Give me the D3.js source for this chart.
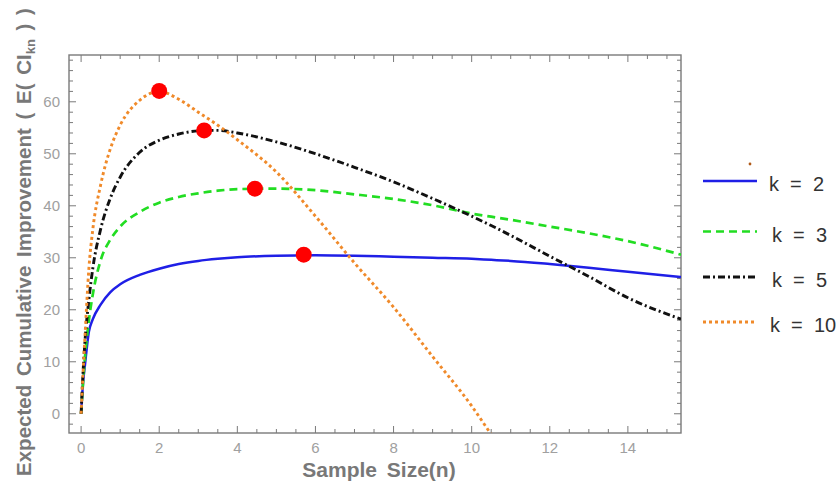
<!DOCTYPE html>
<html>
<head>
<meta charset="utf-8">
<script src="https://cdn.jsdelivr.net/npm/d3@7"></script>
<style>
  html, body { margin: 0; padding: 0; background: #fff; }
  svg { display: block; }
</style>
</head>
<body>
<svg id="chart" width="836" height="486"></svg>
<script>
// ---- data ----
const nValues = [0, 0.05, 0.1, 0.2, 0.3, 0.5, 0.75, 1, 1.5, 2, 2.5, 3, 3.5, 4, 5, 6, 7, 8, 9, 10, 10.5, 11, 12, 13, 14, 15.36];
const k2Values  = [0, 6, 9.5, 15.8, 18.2, 21, 23.4, 24.9, 26.7, 27.9, 28.8, 29.4, 29.8, 30.1, 30.4, 30.5, 30.4, 30.2, 30.0, 29.8, 29.6, 29.4, 28.8, 28.1, 27.3, 26.3];
const k3Values  = [0, 6, 11, 18, 23, 29.5, 33.5, 36, 38.8, 40.6, 41.7, 42.4, 42.9, 43.2, 43.3, 43.0, 42.2, 41.3, 40.1, 38.5, 37.9, 37.3, 36.0, 34.7, 33.2, 30.6];
const k5Values  = [0, 8, 14, 22, 28, 35.5, 41.5, 45.5, 50.3, 52.6, 53.8, 54.4, 54.5, 54.0, 52.3, 50.0, 47.4, 44.6, 41.4, 38.0, 36.2, 34.3, 30.3, 26.4, 22.3, 18.2];
const k10Values = [0, 8, 15, 28, 35.5, 44, 51, 55.5, 60.3, 62, 60.5, 58, 55.5, 52.7, 46.5, 38, 29, 20.5, 11, 1.5, -4, null, null, null, null, null];
const seriesLabels = ["k = 2", "k = 3", "k = 5", "k = 10"];
const peakN      = [5.7, 4.45, 3.15, 2.0];
const peakValues = [30.6, 43.3, 54.5, 62.1];
const xTickLabels = [0, 2, 4, 6, 8, 10, 12, 14];
const yTickLabels = [0, 10, 20, 30, 40, 50, 60];

// ---- styles ----
const colors = ["#1f1fe6", "#22dd22", "#111111", "#f08a2a"];
const dashes = [null, "8,5", "7,3,2,3", "3,3"];
const widths = [2.5, 2.7, 2.9, 2.9];

const svg = d3.select("#chart");
const pLeft = 69, pRight = 681, pTop = 55, pBottom = 433;
const x = d3.scaleLinear().domain([-0.31, 15.36]).range([pLeft, pRight]);
const y = d3.scaleLinear().domain([-3.7, 69]).range([pBottom, pTop]);

svg.append("defs").append("clipPath").attr("id", "clip")
  .append("rect").attr("x", pLeft).attr("y", pTop).attr("width", pRight - pLeft).attr("height", pBottom - pTop);

const frameColor = "#7a7a7a";
const tickColor = "#a0a0a0";

// ticks (inward on all four sides)
const xMinor = d3.range(0, 15.36, 0.5);
const yMinor = d3.range(-2, 69, 2);
const axisG = svg.append("g");
xMinor.forEach(v => {
  const major = Math.abs(v % 2) < 1e-9;
  const len = major ? 7 : 4;
  axisG.append("line").attr("x1", x(v)).attr("x2", x(v)).attr("y1", pBottom).attr("y2", pBottom - len)
    .attr("stroke", frameColor).attr("stroke-width", 1);
  axisG.append("line").attr("x1", x(v)).attr("x2", x(v)).attr("y1", pTop).attr("y2", pTop + len)
    .attr("stroke", frameColor).attr("stroke-width", 1);
});
yMinor.forEach(v => {
  const major = Math.abs(v % 10) < 1e-9;
  const len = major ? 7 : 4;
  axisG.append("line").attr("y1", y(v)).attr("y2", y(v)).attr("x1", pLeft).attr("x2", pLeft + len)
    .attr("stroke", frameColor).attr("stroke-width", 1);
  axisG.append("line").attr("y1", y(v)).attr("y2", y(v)).attr("x1", pRight).attr("x2", pRight - len)
    .attr("stroke", frameColor).attr("stroke-width", 1);
});

// tick labels
svg.append("g").selectAll("text").data(xTickLabels).join("text")
  .attr("x", d => x(d)).attr("y", pBottom + 20)
  .attr("text-anchor", "middle")
  .attr("font-family", "Liberation Sans, Arial, sans-serif").attr("font-size", 15)
  .attr("fill", tickColor).text(d => d);
svg.append("g").selectAll("text").data(yTickLabels).join("text")
  .attr("x", pLeft - 9).attr("y", d => y(d) + 5)
  .attr("text-anchor", "end")
  .attr("font-family", "Liberation Sans, Arial, sans-serif").attr("font-size", 15)
  .attr("fill", tickColor).text(d => d);

// frame
svg.append("rect").attr("x", pLeft).attr("y", pTop).attr("width", pRight - pLeft).attr("height", pBottom - pTop)
  .attr("fill", "none").attr("stroke", frameColor).attr("stroke-width", 1.4);

// lines
const allSeries = [k2Values, k3Values, k5Values, k10Values];
const line = d3.line()
  .defined(d => d[1] !== null)
  .x(d => x(d[0])).y(d => y(d[1]))
  .curve(d3.curveMonotoneX);
const linesG = svg.append("g").attr("clip-path", "url(#clip)");
allSeries.forEach((vals, i) => {
  const pts = nValues.map((n, j) => [n, vals[j]]);
  linesG.append("path").attr("d", line(pts))
    .attr("fill", "none").attr("stroke", colors[i]).attr("stroke-width", widths[i])
    .attr("stroke-dasharray", dashes[i]);
});

// peak markers
svg.append("g").selectAll("circle").data(peakN).join("circle")
  .attr("cx", d => x(d)).attr("cy", (d, i) => y(peakValues[i])).attr("r", 8)
  .attr("fill", "#ff0000");

// axis titles
svg.append("text").attr("x", 379).attr("y", 477).attr("text-anchor", "middle")
  .attr("font-family", "Liberation Sans, Arial, sans-serif").attr("font-weight", "bold")
  .attr("font-size", 21).attr("fill", "#787878").attr("word-spacing", 4)
  .text("Sample Size(n)");

const yt = svg.append("text").attr("transform", "translate(31,242) rotate(-90)")
  .attr("text-anchor", "middle")
  .attr("font-family", "Liberation Sans, Arial, sans-serif").attr("font-weight", "bold")
  .attr("font-size", 20.5).attr("fill", "#787878").attr("word-spacing", 3);
yt.append("tspan").text("Expected Cumulative Improvement ( E( CI");
yt.append("tspan").attr("font-size", 13).attr("dy", 4).text("kn");
yt.append("tspan").attr("dy", -4).text(" ) )");

// legend
const legendY = [181, 231.5, 277, 322];
const legendTextX = [769, 772, 772, 770];
const lg = svg.append("g");
seriesLabels.forEach((lab, i) => {
  lg.append("line").attr("x1", 703).attr("x2", 757).attr("y1", legendY[i]).attr("y2", legendY[i])
    .attr("stroke", colors[i]).attr("stroke-width", widths[i]).attr("stroke-dasharray", dashes[i]);
  lg.append("text").attr("x", legendTextX[i]).attr("y", legendY[i] + 10)
    .attr("font-family", "Liberation Sans, Arial, sans-serif").attr("font-size", 20)
    .attr("fill", "#333").attr("xml:space", "preserve").text(lab.replace(/ /g, "  "));
});
lg.append("circle").attr("cx", 750).attr("cy", 164).attr("r", 1.4).attr("fill", "#b05a18");
</script>
</body>
</html>
